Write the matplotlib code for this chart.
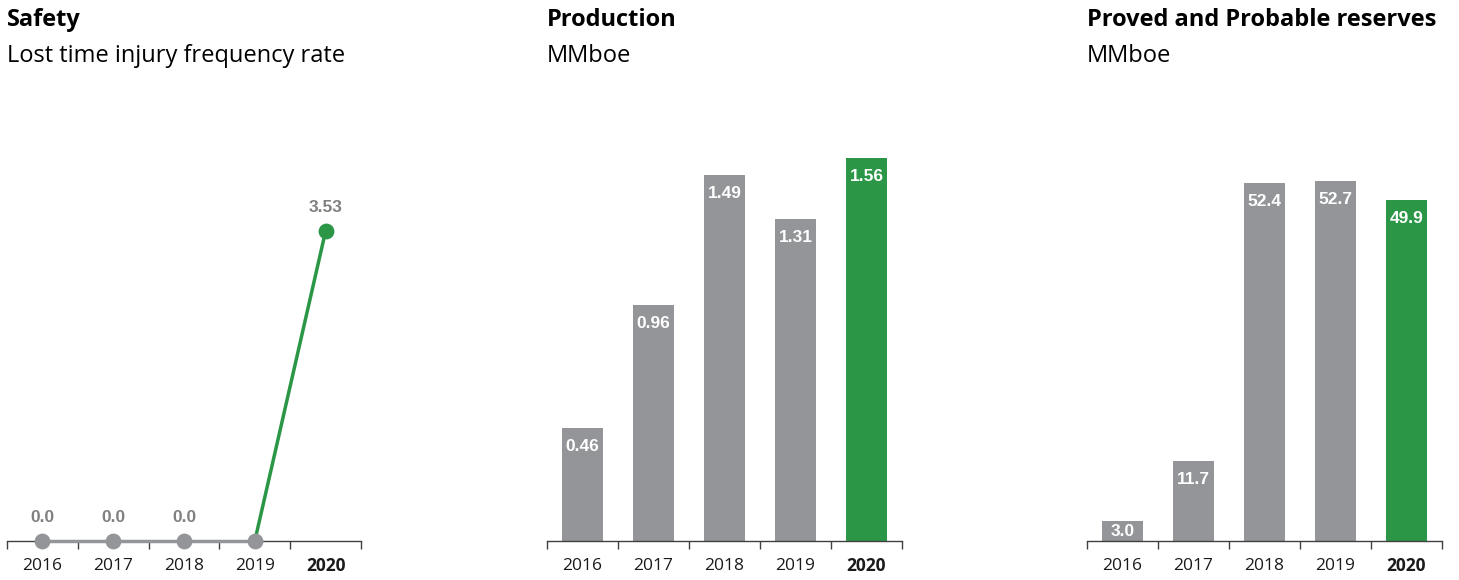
import matplotlib.pyplot as plt
from matplotlib import font_manager

years = ['2016', '2017', '2018', '2019', '2020']
safety = [0.0, 0.0, 0.0, 0.0, 3.53]
safety_labels = ['0.0', '0.0', '0.0', None, '3.53']
production = [0.46, 0.96, 1.49, 1.31, 1.56]
reserves = [3.0, 11.7, 52.4, 52.7, 49.9]

titles = ['Safety', 'Production', 'Proved and Probable reserves']
subtitles = ['Lost time injury frequency rate', 'MMboe', 'MMboe']

grey = '#939598'
green = '#2a9646'
label_grey = '#808080'

W, H = 1459, 580
text_font = ['Open Sans', 'DejaVu Sans']
names = {f.name for f in font_manager.fontManager.ttflist}
narrow = ['Liberation Sans Narrow'] if 'Liberation Sans Narrow' in names else ['Liberation Sans']
plt.rcParams['font.family'] = text_font

fig = plt.figure(figsize=(W / 100, H / 100), dpi=100)

base_y = 541
top_y = 100


def make_axes(x0, x1):
    ax = fig.add_axes([x0 / W, (H - base_y) / H, (x1 - x0) / W, (base_y - top_y) / H])
    ax.set_xlim(-0.5, len(years) - 0.5)
    for s in ['top', 'right', 'left']:
        ax.spines[s].set_visible(False)
    ax.spines['bottom'].set_color('#404040')
    ax.spines['bottom'].set_linewidth(1.0)
    ax.set_yticks([])
    ax.set_xticks([i - 0.5 for i in range(len(years) + 1)])
    ax.set_xticklabels([])
    ax.tick_params(axis='x', length=6, width=1.0, color='#404040', direction='out')
    for i, y in enumerate(years):
        ax.text(i, -0.057, y, transform=ax.get_xaxis_transform(), ha='center', va='center',
                fontsize=12.5, color='#1a1a1a',
                fontweight='bold' if y == '2020' else 'normal')
    return ax


def add_titles(x0, title, subtitle):
    fig.text(x0 / W, 1 - 20 / H, title, fontsize=17, fontweight='bold', ha='left', va='center')
    fig.text(x0 / W, 1 - 56 / H, subtitle, fontsize=17, ha='left', va='center')


# safety line chart
ax1 = make_axes(7, 361)
ax1.set_ylim(0, (base_y - top_y) / 87.8)
x = list(range(len(years)))
ax1.plot(x[:4], safety[:4], color=grey, lw=2.5, zorder=3, clip_on=False)
ax1.plot(x[3:], safety[3:], color=green, lw=2.5, zorder=3, clip_on=False)
ax1.scatter(x[:4], safety[:4], s=130, color=grey, zorder=4, clip_on=False, linewidths=0)
ax1.scatter(x[4:], safety[4:], s=130, color=green, zorder=4, clip_on=False, linewidths=0)
for i, lab in enumerate(safety_labels):
    if lab:
        ax1.annotate(lab, (i, safety[i]), xytext=(0, 24), textcoords='offset pixels',
                     ha='center', va='center', fontsize=12.5, fontweight='bold',
                     color=label_grey, family=narrow)
add_titles(7, titles[0], subtitles[0])


def bar_panel(x0, x1, values, scale, fmt, title, subtitle):
    ax = make_axes(x0, x1)
    ax.set_ylim(0, (base_y - top_y) / scale)
    colors = [grey] * (len(values) - 1) + [green]
    ax.bar(range(len(values)), values, width=0.59, color=colors, zorder=2)
    for i, v in enumerate(values):
        # short bars get their label centred in the bar
        off = min(18, v * scale / 2 + 1)
        ax.annotate(fmt.format(v), (i, v), xytext=(0, -off), textcoords='offset pixels',
                    ha='center', va='center', fontsize=12.5, fontweight='bold',
                    color='white', family=narrow)
    add_titles(x0, title, subtitle)
    return ax


bar_panel(547, 902, production, 245.5, '{:.2f}', titles[1], subtitles[1])
bar_panel(1087, 1442, reserves, 6.83, '{:.1f}', titles[2], subtitles[2])

fig.savefig('out.png', dpi=100)
